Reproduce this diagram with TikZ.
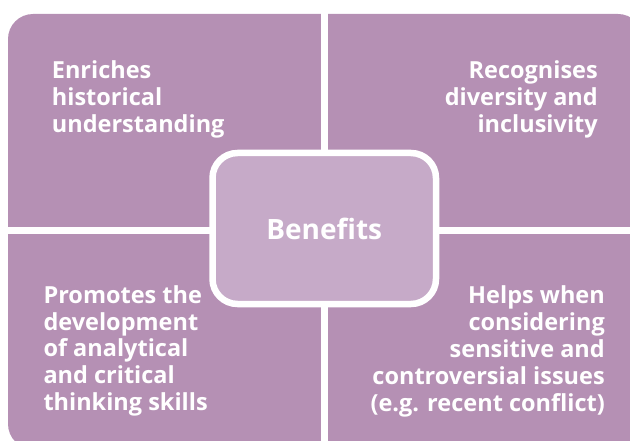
\documentclass[tikz,border=0pt]{standalone}
\usepackage{fontspec}
\setmainfont{Open Sans}
\definecolor{quadcol}{HTML}{B590B4}
\definecolor{centcol}{HTML}{C6AAC8}
\tikzset{
  quadtext/.style={text=white, font=\bfseries\fontsize{23.5}{26.8}\selectfont, inner sep=0pt, text width=260pt},
  centbox/.style={draw=white, line width=6.5pt, fill=centcol, rounded corners=25pt, minimum width=223.5pt, minimum height=151pt, text=white, font=\bfseries\fontsize{28}{32}\selectfont},
  gap/.style={white, line width=7pt}
}
\begin{document}
\begin{tikzpicture}[x=1pt,y=-1pt]
\useasboundingbox (0,0) rectangle (630,441);
\begin{scope}
\clip (0,0) rectangle (630,441);
\fill[quadcol, rounded corners=25pt] (8,14) rectangle (643,449);
\draw[gap] (324.5,0) -- (324.5,449);
\draw[gap] (0,231) -- (643,231);
\end{scope}
\node[centbox] (c) at (324.25,228.5) {Benefits};
\node[quadtext, align=flush left, anchor=base west] (tl) at (51.7,79) {Enriches\\historical\\understanding};
\node[quadtext, align=flush right, anchor=base east] (tr) at (598,79) {Recognises\\diversity and\\inclusivity};
\node[quadtext, align=flush left, anchor=base west] (bl) at (43.3,303.3) {Promotes the\\development\\of analytical\\and critical\\thinking skills};
\node[quadtext, align=flush right, anchor=base east] (br) at (605,304) {Helps when\\considering\\sensitive and\\controversial issues\\(e.g. recent conflict)};
\end{tikzpicture}
\end{document}
